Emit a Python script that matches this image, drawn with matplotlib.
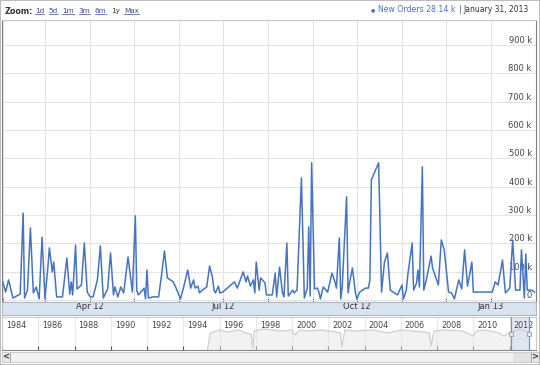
import matplotlib
matplotlib.use("Agg")
import matplotlib.pyplot as plt
import matplotlib.transforms as mtransforms
from matplotlib.patches import Rectangle
from matplotlib.lines import Line2D
import pandas as pd

W, H = 540, 365

# daily new orders (thousands), day offsets from 2012-02-01
order_days = [0, 2, 4, 7, 12, 14, 15, 17, 19, 21, 23, 25, 27, 29, 31, 32, 34, 35, 37, 41,
              44, 46, 47, 48, 50, 51, 54, 56, 58, 60, 62, 65, 67, 69, 72, 74, 76, 77, 79, 81,
              83, 86, 89, 91, 92, 93, 96, 97, 98, 99, 100, 103, 107, 109, 111, 113, 115, 117, 119, 122,
              124, 127, 129, 131, 132, 134, 135, 137, 140, 142, 144, 145, 146, 148, 149, 151, 159, 161, 165, 167,
              168, 170, 172, 173, 174, 176, 177, 180, 181, 185, 187, 188, 190, 192, 193, 195, 196, 199, 200, 202,
              205, 207, 209, 210, 211, 212, 214, 216, 217, 218, 220, 223, 226, 228, 229, 231, 232, 233, 236, 237,
              238, 240, 242, 243, 245, 249, 251, 252, 253, 258, 260, 262, 264, 266, 268, 271, 274, 275, 277, 278,
              281, 282, 284, 285, 286, 288, 289, 291, 294, 295, 299, 301, 303, 306, 308, 310, 313, 315, 317, 319,
              322, 323, 336, 338, 340, 343, 345, 348, 350, 352, 355, 356, 358, 359, 360, 363, 365]
order_values = [64, 28, 71, 7, 21, 307, 7, 35, 254, 25, 46, 4, 222, 4, 116, 184, 99, 134, 11, 11,
                148, 21, 64, 18, 194, 39, 53, 201, 28, 11, 11, 71, 191, 7, 39, 166, 18, 46, 11, 46,
                25, 152, 28, 297, 35, 18, 35, 42, 4, 106, 7, 11, 11, 88, 173, 78, 71, 64, 42, 4,
                42, 106, 42, 71, 42, 49, 25, 35, 46, 120, 78, 35, 25, 49, 25, 28, 64, 42, 99, 64,
                85, 49, 71, 25, 134, 35, 78, 60, 18, 18, 95, 11, 116, 25, 11, 201, 14, 35, 25, 35,
                431, 7, 42, 258, 14, 484, 39, 42, 28, 4, 46, 28, 95, 64, 42, 219, 4, 46, 364, 25,
                60, 113, 28, 4, 28, 42, 42, 71, 424, 484, 28, 134, 166, 35, 28, 18, 53, 4, 35, 88,
                201, 35, 60, 106, 46, 470, 35, 78, 155, 113, 53, 212, 177, 28, 25, 4, 71, 39, 177, 49,
                134, 28, 28, 64, 53, 141, 25, 42, 212, 35, 35, 177, 7, 162, 35, 35, 28.14]
start_date = "2012-02-01"
end_date = "2013-02-01"

y_ticks = [0, 100, 200, 300, 400, 500, 600, 700, 800, 900]
quarter_ticks = ["2012-04-01", "2012-07-01", "2012-10-01", "2013-01-01"]
quarter_labels = ["Apr 12", "Jul 12", "Oct 12", "Jan 13"]

# navigator overview series
nav_dates = ["1995-05", "1995-07", "1996-01", "1996-06", "1996-10", "1997-02", "1997-06", "1997-10",
             "1997-11", "1997-12", "1998-06", "1998-12", "1999-06", "2000-01", "2000-03", "2000-06",
             "2001-01", "2001-08", "2002-06", "2002-09", "2002-10", "2002-12", "2003-06", "2004-06",
             "2005-05", "2006-01", "2006-08", "2007-05", "2007-08", "2007-09", "2007-11", "2008-06",
             "2009-06", "2010-01", "2010-03", "2010-09", "2011-06", "2011-09", "2012-02", "2012-08",
             "2013-01"]
nav_levels = [0, 17, 20, 18, 19, 20, 17, 16, 2, 19, 21, 20, 19, 20, 15, 20,
              19, 20, 18, 17, 3, 20, 19, 20, 17, 20, 19, 18, 17, 4, 19, 20,
              19, 14, 19, 20, 17, 14, 18, 21, 18]
nav_years = list(range(1984, 2013, 2))
nav_start = "1984-08-05"
nav_end = "2013-06-17"

zoom_buttons = ["1d", "5d", "1m", "3m", "6m", "1y", "Max"]
selected_button = "1y"
series_name = "New Orders"
last_label = "28.14 k"
last_date = "January 31, 2013"

BLUE = "#4674c0"
LINK = "#3b4a8c"


def rect(x0, y0, x1, y1):
    return [x0 / W, 1 - y1 / H, (x1 - x0) / W, (y1 - y0) / H]


fig = plt.figure(figsize=(W / 100, H / 100), dpi=100)
fig.patch.set_facecolor("white")

dates = pd.Timestamp(start_date) + pd.to_timedelta(order_days, unit="D")
x_left = pd.Timestamp(start_date) - pd.Timedelta(hours=12)
x_right = pd.Timestamp(end_date)

# main chart
ax = fig.add_axes(rect(2, 20, 536, 302))
ax.plot(dates, order_values, color=BLUE, lw=1.1, solid_joinstyle="round", zorder=3)
ax.set_xlim(x_left, x_right)
ax.set_ylim(-7, 988)
ax.set_xticks(pd.date_range(start_date, "2013-01-01", freq="MS"))
ax.tick_params(axis="x", direction="in", length=3, color="#777777", labelbottom=False)
ax.set_yticks(y_ticks)
ax.set_yticklabels([f"{v} k" if v else "0" for v in y_ticks])
ax.yaxis.tick_right()
ax.tick_params(axis="y", length=0, pad=-3, labelsize=6, labelcolor="#444444")
for lbl in ax.get_yticklabels():
    lbl.set_horizontalalignment("right")
    lbl.set_verticalalignment("bottom")
ax.grid(True, color="#e3e3e3", lw=0.8)
ax.set_axisbelow(True)
for side in ["left", "right"]:
    ax.spines[side].set_color("#7f7f7f")
ax.spines["top"].set_color("#c8c8c8")
ax.spines["bottom"].set_color("#9aaac0")

# date band under the chart
band = fig.add_axes(rect(2, 302, 536, 315))
band.set_facecolor("#dae4f1")
band.set_xlim(x_left, x_right)
band.set_xticks(pd.to_datetime(quarter_ticks))
band.set_xticklabels(quarter_labels)
band.tick_params(axis="x", length=0, pad=-9.5, labelsize=6, labelcolor="#333333")
band.set_yticks([])
for s in band.spines.values():
    s.set_color("#a9b8cc")

# navigator
nav = fig.add_axes(rect(2, 317, 536, 350))
nav_x = pd.to_datetime(nav_dates)
nav.fill_between(nav_x, nav_levels, 0, color="#e6e6e6", alpha=0.5, lw=0)
nav.plot(nav_x, nav_levels, color="#cfcfcf", lw=0.9)
nav.set_xlim(pd.Timestamp(nav_start), pd.Timestamp(nav_end))
nav.set_ylim(0, 33)
year_dates = pd.to_datetime([f"{y}-01-01" for y in nav_years])
nav.set_xticks(year_dates)
nav.tick_params(axis="x", direction="in", length=3, color="#555555", labelbottom=False)
nav.set_yticks([])
nav.grid(True, axis="x", color="#e8e8e8", lw=0.8)
nav.set_axisbelow(True)
offset = mtransforms.ScaledTranslation(4 / 100, 0, fig.dpi_scale_trans)
for y, d in zip(nav_years, year_dates):
    nav.text(d, 0.73, str(y), transform=nav.get_xaxis_transform() + offset,
             ha="left", va="center", fontsize=5.8, color="#444444", clip_on=True)
nav.axvspan(pd.Timestamp(start_date), pd.Timestamp("2013-01-31"), color="#dce5f2",
            alpha=0.85, lw=0, zorder=1)
for d in [pd.Timestamp(start_date), pd.Timestamp("2013-01-31")]:
    nav.axvline(d, color="#7f93b3", lw=0.9, zorder=4)
    nav.plot(d, 16, marker="s", ms=3.5, mfc="#ebe7e8", mec="#9e9ea5", mew=0.6, zorder=5)
nav.spines["top"].set_color("#cccccc")
nav.spines["bottom"].set_color("#888888")
nav.spines["left"].set_color("#cccccc")
nav.spines["right"].set_color("#cccccc")

# scrollbar
sb = fig.add_axes(rect(2, 352, 539, 362))
sb.set_facecolor("#f2f2f2")
sb.set_xlim(pd.Timestamp(nav_start), pd.Timestamp(nav_end))
sb.set_ylim(0, 1)
sb.set_xticks([])
sb.set_yticks([])
for s in sb.spines.values():
    s.set_color("#cccccc")
sb.axvspan(pd.Timestamp(start_date), pd.Timestamp("2013-01-31"), color="#e2e2e2", lw=0)
for fx, arrow in [(0.0, "<"), (0.985, ">")]:
    sb.add_patch(Rectangle((fx, 0), 0.015, 1, transform=sb.transAxes,
                           facecolor="#e8e8e8", edgecolor="#999999", lw=0.6, clip_on=False))
    sb.text(fx + 0.0075, 0.48, arrow, transform=sb.transAxes, ha="center", va="center",
            fontsize=6, fontweight="bold", color="#333333")

# header: range selector on the left, last value on the right
renderer = fig.canvas.get_renderer()
zt = fig.text(5 / W, 1 - 11 / H, "Zoom:", fontsize=5.8, fontweight="bold",
              color="#333333", va="center")
x = zt.get_window_extent(renderer).x1 + 1.5
links = []
for name in zoom_buttons:
    color = "#333333" if name == selected_button else LINK
    t = fig.text(x / W, 1 - 11 / H, name, fontsize=5.2, color=color, va="center")
    x = t.get_window_extent(renderer).x1 + 4.5
    if name != selected_button:
        links.append(t)

dt = fig.text(529 / W, 1 - 10 / H, last_date, fontsize=5.5, color="#333333",
              va="center", ha="right")
x = dt.get_window_extent(renderer).x0 - 2.5
bar = fig.text(x / W, 1 - 10 / H, "|", fontsize=5.5, color="#555555", va="center", ha="right")
x = bar.get_window_extent(renderer).x0 - 3
st = fig.text(x / W, 1 - 10 / H, f"{series_name} {last_label}", fontsize=5.6, color=BLUE,
              va="center", ha="right")
x = st.get_window_extent(renderer).x0 - 3
fig.text(x / W, 1 - 10 / H, "\u25cf", fontsize=3.5, color=BLUE, va="center", ha="right")

for t in links:
    bb = t.get_window_extent(renderer)
    yy = (bb.y0 + 0.5) / fig.bbox.height
    fig.add_artist(Line2D([bb.x0 / fig.bbox.width, bb.x1 / fig.bbox.width], [yy, yy],
                          color=LINK, lw=0.5))

# outer frame
fig.add_artist(Rectangle((0, 0), 1, 1, transform=fig.transFigure, fill=False,
                         edgecolor="#b0b0b0", lw=1.2))

fig.savefig("out.png", dpi=100)
